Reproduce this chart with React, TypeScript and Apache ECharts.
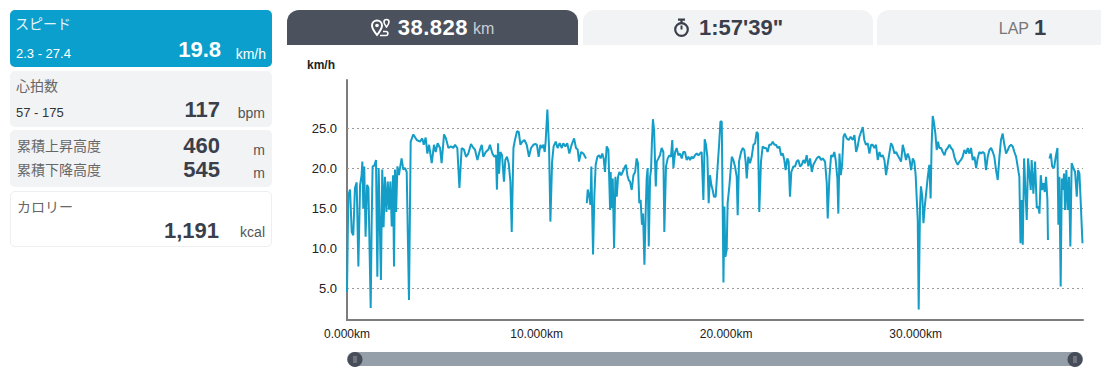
import React, { useEffect, useRef } from "react";
import * as echarts from "echarts";

// ---------------- data ----------------
const TOTAL_KM = 38.828;
const X_TICK_STEP = 10;
const Y_MIN = 1;
const Y_MAX = 31;
const Y_TICKS = [5, 10, 15, 20, 25];

const distanceKm: number[] = [
  // 0 - 7 km
  0.00, 0.07, 0.16, 0.25, 0.33, 0.42, 0.51, 0.60, 0.69, 0.77,
  0.81, 0.86, 0.91, 0.98, 1.06, 1.13, 1.25, 1.30, 1.35, 1.44,
  1.53, 1.60, 1.67, 1.79, 1.86, 1.93, 2.00, 2.08, 2.15, 2.22,
  2.29, 2.36, 2.43, 2.48, 2.53, 2.59, 2.66, 2.74, 2.81, 2.88,
  2.97, 3.06, 3.15, 3.27, 3.36, 3.50, 3.68, 3.85, 3.97, 4.05,
  4.15, 4.24, 4.33, 4.47, 4.59, 4.68, 4.78, 4.91, 4.99, 5.12,
  5.22, 5.35, 5.49, 5.61, 5.70, 5.82, 5.93, 6.05, 6.17, 6.28,
  6.40, 6.54, 6.67, 6.75, 6.88, 7.02,
  // 7 - 14 km
  7.11, 7.19, 7.32, 7.46, 7.54, 7.67, 7.77, 7.86, 7.91, 7.97,
  8.02, 8.09, 8.18, 8.28, 8.35, 8.44, 8.53, 8.62, 8.69, 8.78,
  8.86, 8.97, 9.06, 9.15, 9.25, 9.36, 9.48, 9.60, 9.71, 9.83,
  9.94, 10.02, 10.11, 10.20, 10.27, 10.36, 10.43, 10.48, 10.57, 10.66,
  10.73, 10.82, 10.90, 11.01, 11.11, 11.22, 11.33, 11.41, 11.52, 11.62,
  11.73, 11.85, 11.98, 12.08, 12.17, 12.24, 12.35, 12.47, 12.61, 12.63,
  12.65, 12.70, 12.77, 12.84, 12.89, 12.98, 13.05, 13.12, 13.21, 13.30,
  13.38, 13.47, 13.54, 13.61, 13.70, 13.79, 13.88,
  // 14 - 25 km
  13.91, 13.96, 14.02, 14.09, 14.16, 14.23, 14.30, 14.37, 14.46, 14.54,
  14.63, 14.72, 14.79, 14.86, 14.93, 15.02, 15.11, 15.20, 15.28, 15.35,
  15.42, 15.49, 15.56, 15.62, 15.69, 15.76, 15.81, 15.86, 15.92, 15.99,
  16.04, 16.09, 16.14, 16.20, 16.29, 16.34, 16.43, 16.51, 16.60, 16.69,
  16.74, 16.83, 16.92, 17.01, 17.09, 17.16, 17.22, 17.31, 17.39, 17.48,
  17.57, 17.66, 17.74, 17.83, 17.92, 18.01, 18.10, 18.18, 18.27, 18.36,
  18.45, 18.54, 18.62, 18.71, 18.80, 18.87, 18.94, 19.01, 19.08, 19.15,
  19.22, 19.29, 19.36, 19.45, 19.54, 19.63, 19.70, 19.77, 19.82, 19.86,
  19.91, 19.96, 20.03, 20.08, 20.17, 20.24, 20.30, 20.38, 20.47, 20.56,
  20.61, 20.68, 20.79, 20.88, 20.96, 21.03, 21.09, 21.17, 21.26, 21.35,
  21.44, 21.53, 21.61, 21.68, 21.75, 21.84, 21.93, 22.02, 22.11, 22.19,
  22.28, 22.37, 22.46, 22.55, 22.63, 22.72, 22.81, 22.90, 22.99, 23.07,
  23.14, 23.23, 23.30, 23.37, 23.44, 23.55, 23.64, 23.72, 23.81, 23.90,
  23.99, 24.08, 24.16, 24.25, 24.34, 24.43, 24.52, 24.60, 24.69, 24.78,
  24.87,
  // 25 - 38.8 km
  24.92, 25.01, 25.10, 25.22, 25.31, 25.36, 25.45, 25.54, 25.62, 25.71,
  25.78, 25.87, 25.92, 25.98, 26.05, 26.12, 26.19, 26.26, 26.36, 26.47,
  26.57, 26.68, 26.77, 26.86, 26.94, 27.03, 27.12, 27.21, 27.29, 27.38,
  27.47, 27.56, 27.65, 27.73, 27.82, 27.91, 28.00, 28.09, 28.17, 28.26,
  28.35, 28.44, 28.53, 28.61, 28.70, 28.79, 28.88, 28.97, 29.05, 29.14,
  29.23, 29.32, 29.41, 29.49, 29.58, 29.67, 29.76, 29.85, 29.93, 30.00,
  30.06, 30.11, 30.16, 30.23, 30.28, 30.35, 30.41, 30.48, 30.55, 30.63,
  30.72, 30.79, 30.84, 30.90, 30.97, 31.04, 31.11, 31.18, 31.25, 31.34,
  31.43, 31.52, 31.60, 31.69, 31.78, 31.87, 31.96, 32.04, 32.13, 32.22,
  32.31, 32.39, 32.48, 32.57, 32.66, 32.75, 32.83, 32.92, 33.01, 33.10,
  33.19, 33.27, 33.36, 33.45, 33.54, 33.63, 33.71, 33.80, 33.89, 33.98,
  34.07, 34.15, 34.24, 34.33, 34.42, 34.50, 34.59, 34.68, 34.77, 34.86,
  34.94, 35.03, 35.12, 35.21, 35.30, 35.38, 35.47, 35.53, 35.60, 35.65,
  35.72, 35.79, 35.86, 35.93, 36.00, 36.07, 36.12, 36.21, 36.30, 36.39,
  36.47, 36.53, 36.60, 36.67, 36.74, 36.81, 36.88, 36.95, 36.98, 37.02,
  37.06, 37.13, 37.20, 37.30, 37.39, 37.48, 37.53, 37.58, 37.65, 37.71,
  37.76, 37.83, 37.88, 37.95, 38.02, 38.09, 38.16, 38.23, 38.32, 38.41,
  38.50, 38.57, 38.64, 38.71, 38.80,
];

const speedKmh: (number | null)[] = [
  // 0 - 7 km
  4.5, 16.6, 17.3, 12.0, 11.6, 17.5, 18.2, 7.7, 17.9, 19.1,
  20.8, 15.0, 20.2, 11.4, 17.9, 17.5, 2.5, 12.9, 20.2, 20.3,
  21.0, 6.4, 20.0, 6.0, 19.8, 12.6, 18.9, 14.5, 18.3, 14.8,
  18.3, 12.7, 19.1, 7.7, 19.8, 14.5, 20.2, 19.1, 20.2, 21.2,
  19.8, 20.0, 19.5, 3.5, 23.3, 24.2, 23.5, 23.3, 23.7, 22.9,
  23.8, 21.8, 22.9, 20.6, 22.9, 22.0, 23.1, 22.5, 20.6, 24.2,
  23.7, 22.5, 22.7, 22.5, 22.9, 22.5, 17.5, 22.5, 22.3, 21.4,
  21.8, 23.0, 22.5, 22.3, 21.0, 22.3,
  // 7 - 14 km
  22.9, 21.4, 22.0, 22.3, 22.9, 21.8, 21.4, 21.6, 17.3, 23.1,
  19.3, 22.0, 21.6, 18.3, 21.0, 21.4, 20.6, 18.3, 12.0, 22.5,
  23.5, 24.6, 24.5, 22.9, 23.3, 23.5, 22.9, 21.4, 22.5, 22.9,
  23.0, 22.9, 21.4, 22.9, 22.5, 22.9, 22.0, 23.3, 27.3, 22.5,
  13.3, 20.8, 22.7, 23.3, 22.5, 23.1, 22.5, 23.1, 22.7, 23.1,
  21.8, 22.9, 23.7, 22.5, 22.3, 20.8, 22.0, 21.8, 21.2, null,
  15.6, 17.3, 16.6, 15.4, 20.2, 9.2, 16.6, 20.4, 21.4, 21.6,
  21.2, 21.8, 21.2, 19.5, 22.7, 22.3, 14.75,
  // 14 - 25 km
  19.5, 15.0, 18.7, 10.0, 18.9, 16.4, 18.9, 19.5, 19.1, 19.5,
  20.0, 20.4, 19.1, 18.5, 18.3, 17.25, 19.1, 19.5, 21.2, 20.6,
  15.6, 16.0, 12.9, 14.3, 7.9, 14.75, 18.7, 20.0, 10.2, 18.9,
  19.75, 23.5, 26.1, 24.75, 17.7, 20.8, 21.2, 21.6, 22.5, 22.0,
  12.0, 20.2, 21.2, 21.6, 21.4, 23.5, 20.0, 22.0, 22.5, 21.6,
  21.8, 21.2, 22.0, 22.0, 21.0, 21.4, 21.0, 21.4, 21.2, 21.6,
  21.8, 21.6, 21.8, 22.0, 16.0, 23.6, 22.9, 21.4, 15.6, 19.1,
  17.9, 17.25, 16.4, 16.4, 19.75, 22.9, 25.8, 25.8, 15.0, 5.7,
  15.2, 8.9, 9.75, 15.6, 17.7, 19.75, 21.4, 21.0, 20.2, 18.9,
  14.1, 20.8, 22.0, 22.5, 22.25, 20.8, 18.7, 21.4, 20.6, 21.4,
  22.9, 23.1, 24.5, 24.3, 14.5, 20.8, 22.7, 22.5, 22.5, 22.0,
  22.9, 22.9, 23.3, 22.9, 22.9, 22.5, 22.7, 21.6, 21.8, 21.0,
  19.75, 21.2, 20.8, 16.4, 19.5, 20.2, 20.2, 20.8, 21.0, 20.2,
  20.4, 21.0, 20.6, 21.6, 20.2, 21.2, 19.5, 20.4, 20.8, 21.2,
  21.4,
  // 25 - 38.8 km
  21.4, 21.0, 21.2, 20.8, 18.1, 13.7, 18.9, 21.6, 21.4, 22.0,
  21.0, 18.7, 14.3, 21.8, 19.1, 20.4, 23.9, 24.3, 23.7, 23.5,
  23.9, 23.5, 24.1, 22.0, 22.7, 23.9, 24.5, 25.1, 23.5, 22.9,
  23.1, 21.8, 22.9, 22.9, 22.5, 22.9, 21.0, 22.0, 21.4, 21.6,
  21.0, 19.1, 20.6, 21.8, 23.1, 22.7, 21.8, 22.0, 21.6, 21.2,
  20.8, 22.9, 22.0, 21.0, 21.8, 21.2, 19.75, 21.2, 20.8, 19.1,
  16.0, 13.5, 2.3, 15.2, 17.7, 16.4, 13.1, 15.2, 16.8, 18.7,
  20.4, 16.2, 22.7, 26.5, 25.6, 24.3, 22.25, 23.3, 22.5, 22.5,
  22.0, 21.6, 22.25, 22.5, 22.9, 22.5, 22.25, 21.4, 20.8, 20.4,
  20.8, 21.0, 21.4, 22.25, 21.8, 22.5, 21.8, 22.5, 21.0, 21.4,
  20.0, 21.2, 22.0, 21.8, 22.0, 21.8, 19.75, 21.4, 22.25, 22.5,
  22.0, 21.4, 19.75, 18.5, 21.4, 23.5, 24.3, 22.9, 21.8, 22.25,
  22.7, 22.9, 22.7, 22.0, 21.4, 20.2, 18.9, 10.6, 16.0, 10.4,
  21.2, 17.25, 13.5, 21.2, 19.3, 17.25, 21.0, 16.8, 20.8, 15.0,
  15.2, 14.3, 19.1, 17.25, 18.1, 17.0, 18.9, 16.0, 11.0, null,
  21.2, 21.8, 20.2, 20.0, 21.4, 22.5, 12.9, 18.9, 5.2, 18.7,
  17.25, 19.3, 14.75, 19.75, 14.75, 18.9, 10.2, 20.6, 20.0, 19.5,
  16.4, 19.75, 19.3, 15.6, 10.6,
];

// side panel values
const speedLabel = "スピード";
const speedRange = "2.3 - 27.4";
const speedAvg = "19.8";
const hrLabel = "心拍数";
const hrRange = "57 - 175";
const hrAvg = "117";
const ascentLabel = "累積上昇高度";
const ascentValue = "460";
const descentLabel = "累積下降高度";
const descentValue = "545";
const calorieLabel = "カロリー";
const calorieValue = "1,191";
const distanceTotal = "38.828";
const durationTotal = "1:57'39\"";
const lapNumber = "1";

const LATIN = '"Liberation Sans", Arial, "Noto Sans CJK JP", sans-serif';

type TP = {
  text: string;
  x?: number;
  right?: number;
  cy: number;
  size: number;
  color: string;
  bold?: boolean;
};

function T({ text, x, right, cy, size, color, bold }: TP) {
  const style: React.CSSProperties = {
    position: "absolute",
    top: cy - size * 0.49,
    fontSize: size,
    lineHeight: size + "px",
    color,
    fontWeight: bold ? 700 : 400,
    whiteSpace: "nowrap",
    fontFamily: LATIN,
  };
  if (right !== undefined) style.right = 1101 - right;
  else style.left = x;
  return <div style={style}>{text}</div>;
}

function Box(props: { l: number; t: number; w: number; h: number; bg: string; border?: string; radius?: string }) {
  return (
    <div
      style={{
        position: "absolute",
        left: props.l,
        top: props.t,
        width: props.w,
        height: props.h,
        background: props.bg,
        borderRadius: props.radius ?? "5px",
        boxSizing: "border-box",
        border: props.border ? "1px solid " + props.border : "none",
      }}
    />
  );
}

export default function App() {
  const ref = useRef<HTMLDivElement>(null);

  useEffect(() => {
    if (!ref.current) return;
    const chart = echarts.init(ref.current, null, { renderer: "svg" });
    const data = distanceKm.map((d, i) => [d, speedKmh[i] === null ? "-" : speedKmh[i]]);
    const option: any = {
      animation: false,
      textStyle: { fontFamily: LATIN },
      grid: { left: 347, right: 18, top: 80, bottom: 59, containLabel: false },
      xAxis: {
        type: "value",
        min: 0,
        max: TOTAL_KM,
        interval: X_TICK_STEP,
        axisLine: { show: true, onZero: false, lineStyle: { color: "#7d7d7d", width: 2 } },
        axisTick: { show: false },
        splitLine: { show: false },
        axisLabel: {
          color: "#222",
          fontSize: 12,
          margin: 8,
          showMaxLabel: false,
          fontFamily: LATIN,
          formatter: (v: number) => v.toFixed(3) + "km",
        },
      },
      yAxis: {
        type: "value",
        min: Y_MIN,
        max: Y_MAX,
        name: "km/h",
        nameLocation: "end",
        nameGap: 9,
        nameTextStyle: {
          color: "#222",
          fontWeight: "bold",
          fontSize: 12,
          align: "right",
          padding: [0, 12, 0, 0],
          fontFamily: LATIN,
        },
        axisLine: { show: true, onZero: false, lineStyle: { color: "#7d7d7d", width: 2 } },
        axisTick: { show: false },
        splitLine: { show: false },
        axisLabel: {
          customValues: Y_TICKS,
          color: "#222",
          fontSize: 13,
          margin: 10,
          fontFamily: LATIN,
          formatter: (v: number) => (Y_TICKS.indexOf(v) >= 0 ? v.toFixed(1) : ""),
        },
      },
      series: [
        {
          type: "line",
          data,
          z: 2,
          showSymbol: false,
          symbol: "none",
          connectNulls: false,
          lineStyle: { color: "#149dc7", width: 2 },
          emphasis: { disabled: true },
          markLine: {
            z: 1,
            silent: true,
            symbol: ["none", "none"],
            label: { show: false },
            emphasis: { disabled: true },
            lineStyle: { type: [2, 3], color: "#9a9a9a", width: 1 },
            data: Y_TICKS.map((v) => ({ yAxis: v })),
          },
        },
      ],
      graphic: [
        {
          type: "rect",
          shape: { x: 347, y: 352, width: 736, height: 14, r: 7 },
          style: { fill: "#959fa9" },
          silent: true,
        },
        { type: "circle", shape: { cx: 355, cy: 359.5, r: 7.5 }, style: { fill: "#464c58" }, silent: true },
        { type: "circle", shape: { cx: 1075, cy: 359.5, r: 7.5 }, style: { fill: "#464c58" }, silent: true },
        { type: "line", shape: { x1: 354, y1: 356, x2: 354, y2: 363 }, style: { stroke: "#a9b0b8", lineWidth: 0.8 }, silent: true },
        { type: "line", shape: { x1: 356, y1: 356, x2: 356, y2: 363 }, style: { stroke: "#a9b0b8", lineWidth: 0.8 }, silent: true },
        { type: "line", shape: { x1: 1074, y1: 356, x2: 1074, y2: 363 }, style: { stroke: "#a9b0b8", lineWidth: 0.8 }, silent: true },
        { type: "line", shape: { x1: 1076, y1: 356, x2: 1076, y2: 363 }, style: { stroke: "#a9b0b8", lineWidth: 0.8 }, silent: true },
      ],
    };
    chart.setOption(option);
    return () => chart.dispose();
  }, []);

  const dark = "#3a3f4b";
  const gray = "#666";

  return (
    <div
      style={{
        position: "fixed",
        left: 0,
        top: 0,
        width: 1101,
        height: 379,
        overflow: "hidden",
        background: "#fff",
        fontFamily: LATIN,
      }}
    >
      <div ref={ref} style={{ position: "absolute", left: 0, top: 0, width: 1101, height: 379 }} />

      {/* left panel */}
      <Box l={10} t={10} w={262} h={57} bg="#0a9fcc" />
      <T text={speedLabel} x={15} cy={24} size={14} color="#e4f4fa" />
      <T text={speedRange} x={16} cy={53} size={13} color="#ffffff" />
      <T text={speedAvg} right={221} cy={50} size={22} color="#ffffff" bold />
      <T text="km/h" right={266} cy={54} size={14} color="#ffffff" />

      <Box l={10} t={71} w={262} h={56} bg="#f2f3f5" />
      <T text={hrLabel} x={16} cy={86} size={14} color={gray} />
      <T text={hrRange} x={16} cy={112} size={13} color="#333" />
      <T text={hrAvg} right={220} cy={110} size={22} color={dark} bold />
      <T text="bpm" right={265} cy={113} size={14} color="#555" />

      <Box l={10} t={130} w={262} h={57} bg="#f2f3f5" />
      <T text={ascentLabel} x={17} cy={146} size={14} color={gray} />
      <T text={ascentValue} right={220} cy={146} size={22} color={dark} bold />
      <T text="m" right={265} cy={150} size={14} color="#555" />
      <T text={descentLabel} x={17} cy={170} size={14} color={gray} />
      <T text={descentValue} right={220} cy={170} size={22} color={dark} bold />
      <T text="m" right={265} cy={173} size={14} color="#555" />

      <Box l={10} t={191} w={262} h={56} bg="#ffffff" border="#eceef0" />
      <T text={calorieLabel} x={17} cy={207} size={14} color={gray} />
      <T text={calorieValue} right={219} cy={231} size={22} color={dark} bold />
      <T text="kcal" right={265} cy={232} size={14} color="#555" />

      {/* tabs */}
      <div
        style={{
          position: "absolute",
          left: 287,
          top: 10,
          width: 291,
          height: 35,
          background: "#4b515d",
          borderRadius: "12px 12px 0 0",
          display: "flex",
          alignItems: "center",
          justifyContent: "center",
        }}
      >
        <svg width="20" height="19" viewBox="0 0 20 19" style={{ marginRight: 7 }}>
          <path d="M6 17 C2 12 1 10 1 7.5 A5 5 0 0 1 11 7.5 C11 10 10 12 6 17 Z" fill="none" stroke="#fff" strokeWidth="2" />
          <circle cx="6" cy="7.5" r="1.8" fill="#fff" />
          <path d="M15.5 9 C13.5 6.5 13 5.5 13 4 A2.5 2.5 0 0 1 18 4 C18 5.5 17.5 6.5 15.5 9 Z" fill="none" stroke="#fff" strokeWidth="1.6" />
          <path d="M9 17.5 L15 17.5 C17.5 17.5 17.5 13.5 15 13.5 L12 13.5" fill="none" stroke="#fff" strokeWidth="1.6" />
        </svg>
        <span style={{ color: "#fff", fontWeight: 700, fontSize: 22, fontFamily: LATIN, letterSpacing: 0.5 }}>{distanceTotal}</span>
        <span style={{ color: "#c9cdd4", fontSize: 16, marginLeft: 5, marginTop: 3, fontFamily: LATIN }}>km</span>
      </div>

      <div
        style={{
          position: "absolute",
          left: 583,
          top: 10,
          width: 290,
          height: 35,
          background: "#f2f3f5",
          borderRadius: "12px 12px 0 0",
          display: "flex",
          alignItems: "center",
          justifyContent: "center",
        }}
      >
        <svg width="17" height="19" viewBox="0 0 17 19" style={{ marginRight: 9 }}>
          <rect x="5" y="0.5" width="7" height="2.2" fill={dark} />
          <rect x="7.4" y="2" width="2.2" height="3" fill={dark} />
          <circle cx="8.5" cy="11.5" r="6.3" fill="none" stroke={dark} strokeWidth="2.2" />
          <line x1="8.5" y1="11.5" x2="8.5" y2="7.5" stroke={dark} strokeWidth="2" />
        </svg>
        <span style={{ color: dark, fontWeight: 700, fontSize: 22, fontFamily: LATIN }}>{durationTotal}</span>
      </div>

      <div
        style={{
          position: "absolute",
          left: 877,
          top: 10,
          width: 291,
          height: 35,
          background: "#f2f3f5",
          borderRadius: "12px 12px 0 0",
          display: "flex",
          alignItems: "center",
          justifyContent: "center",
        }}
      >
        <span style={{ color: "#777", fontSize: 16, marginTop: 3, fontFamily: LATIN }}>LAP</span>
        <span style={{ color: dark, fontWeight: 700, fontSize: 22, marginLeft: 5, fontFamily: LATIN }}>{lapNumber}</span>
      </div>
    </div>
  );
}
